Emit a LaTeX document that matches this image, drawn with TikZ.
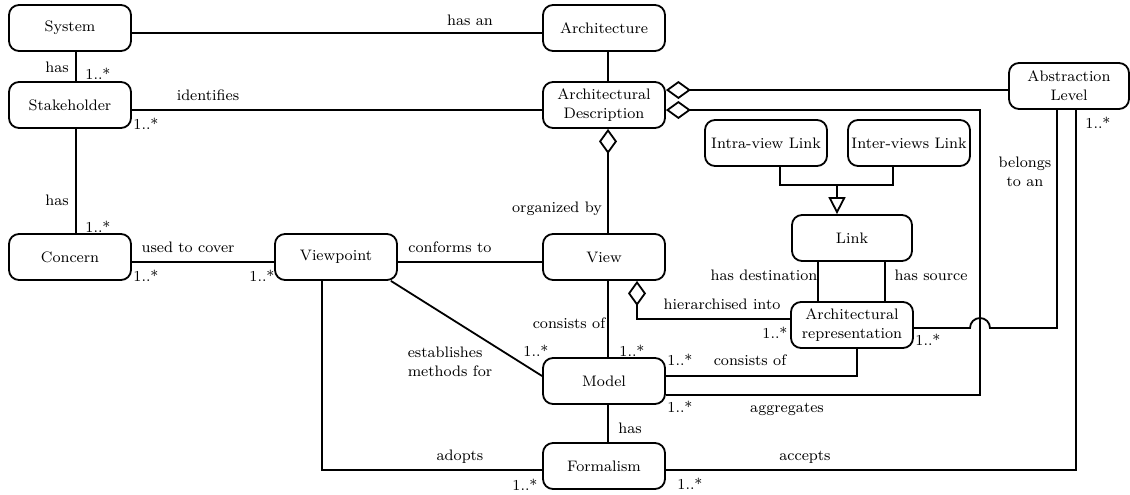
\documentclass[tikz,border=0pt]{standalone}
\usetikzlibrary{arrows.meta}

\begin{document}
\begin{tikzpicture}[x=0.5pt, y=-0.5pt, line width=0.9pt,
	box/.style={draw, rounded corners=5pt, minimum width=61pt, minimum height=23pt, align=center, inner sep=1pt, font=\fontsize{7.6}{9.5}\selectfont},
	lbl/.style={inner sep=0pt, align=center, font=\fontsize{7.6}{9.5}\selectfont},
	agg/.style={-{Diamond[open, length=12.5pt, width=9pt]}},
	gen/.style={-{Triangle[open, length=8.5pt, width=8.5pt]}}]
	
	\useasboundingbox (0,0) rectangle (1130,494);
	
	% classes
	\node [box] (sys) at (70,28) {System};
	\node [box] (arch) at (604,28) {Architecture};
	\node [box] (stake) at (70,105) {Stakeholder};
	\node [box] (ad) at (604,105) {Architectural\\Description};
	\node [box, minimum width=60pt] (abs) at (1069,86) {Abstraction\\Level};
	\node [box] (intra) at (766,143) {Intra-view Link};
	\node [box] (inter) at (909,143) {Inter-views Link};
	\node [box, minimum width=60pt] (link) at (852,238) {Link};
	\node [box] (concern) at (70,257) {Concern};
	\node [box] (vp) at (336,257) {Viewpoint};
	\node [box] (view) at (604,257) {View};
	\node [box] (arep) at (852,325) {Architectural\\representation};
	\node [box] (model) at (604,381) {Model};
	\node [box] (form) at (604,466) {Formalism};
	
	\coordinate (gj) at (837,185);
	\coordinate (aggcorner) at (980,110);
	\coordinate (jump) at (970,328);
	
	% associations
	\draw ([yshift=-2.5pt]sys.east) -- ([yshift=-2.5pt]arch.west);
	\draw ([xshift=3pt]sys.south) -- ([xshift=3pt]stake.north);
	\draw ([yshift=-2.5pt]stake.east) -- ([yshift=-2.5pt]ad.west);
	\draw ([xshift=3pt]stake.south) -- ([xshift=3pt]concern.north);
	\draw ([yshift=-2.5pt]concern.east) -- ([yshift=-2.5pt]vp.west);
	\draw ([yshift=-2.5pt]vp.east) -- ([yshift=-2.5pt]view.west);
	\draw ([xshift=2pt]arch.south) -- ([xshift=2pt]ad.north);
	\draw [agg] ([xshift=2pt]view.north) -- ([xshift=2pt]ad.south);
	\draw ([xshift=2pt]view.south) -- ([xshift=2pt]model.north);
	\draw ([xshift=2pt]model.south) -- ([xshift=2pt]form.north);
	\draw ([xshift=-3.5pt]vp.south east) -- ([yshift=2.5pt]model.west);
	\draw ([xshift=-7pt]vp.south) |- ([yshift=-2pt]form.west);
	\draw [agg] ([yshift=3pt]arep.west) -| ([xshift=16.5pt]view.south);
	\draw ([yshift=2.5pt]model.east) -| ([xshift=2.5pt]arep.south);
	\draw [agg] ([yshift=-7pt]model.east) -| (aggcorner) -- ([yshift=-2.5pt]ad.east);
	\draw [agg] ([yshift=-2pt]abs.west) -- ([yshift=7.5pt]ad.east);
	\draw ([yshift=-1.5pt]arep.east) -- (jump) arc [start angle=180, end angle=0, radius=5pt] -| ([xshift=-6pt]abs.south);
	\draw ([yshift=-2pt]form.east) -| ([xshift=3.5pt]abs.south);
	\draw ([xshift=-17pt]link.south) -- ([xshift=-17pt]arep.north);
	\draw ([xshift=16.5pt]link.south) -- ([xshift=16.5pt]arep.north);
	
	% generalization
	\draw ([xshift=7pt]intra.south) |- (gj) -| ([xshift=-8pt]inter.south);
	\draw [gen] (gj) -- (gj |- link.north);
	
	% role names and multiplicities
	\node [lbl] (hasan) at (470,20) {has an};
	\node [lbl] (has1) at (57,67) {has};
	\node [lbl] (m1) at (98,74) {1..*};
	\node [lbl] (ident) at (208,95) {identifies};
	\node [lbl] (m2) at (146,124) {1..*};
	\node [lbl] (has2) at (57,200) {has};
	\node [lbl] (m3) at (98,227) {1..*};
	\node [lbl] (cover) at (188,247) {used to cover};
	\node [lbl] (m4) at (146,276) {1..*};
	\node [lbl] (m5) at (262,276) {1..*};
	\node [lbl] (conf) at (450,247) {conforms to};
	\node [lbl] (org) at (557,209) {organized by};
	\node [lbl, align=left] (estab) at (450,362) {establishes\\methods for};
	\node [lbl] (m6) at (536,351) {1..*};
	\node [lbl] (cons1) at (569,323) {consists of};
	\node [lbl] (m7) at (632,351) {1..*};
	\node [lbl] (hier) at (722,304) {hierarchised into};
	\node [lbl] (m8) at (775,333) {1..*};
	\node [lbl] (hasdest) at (764,275) {has destination};
	\node [lbl] (hassrc) at (931,275) {has source};
	\node [lbl] (m9) at (928,340) {1..*};
	\node [lbl] (belongs) at (1025,172) {belongs\\to an};
	\node [lbl] (m10) at (1098,123) {1..*};
	\node [lbl] (m11) at (680,360) {1..*};
	\node [lbl] (cons2) at (750,360) {consists of};
	\node [lbl] (m12) at (680,407) {1..*};
	\node [lbl] (aggr) at (787,409) {aggregates};
	\node [lbl] (has3) at (630,428) {has};
	\node [lbl] (adopts) at (460,457) {adopts};
	\node [lbl] (m13) at (525,485) {1..*};
	\node [lbl] (accepts) at (805,457) {accepts};
	\node [lbl] (m14) at (690,484) {1..*};
	
\end{tikzpicture}
\end{document}
